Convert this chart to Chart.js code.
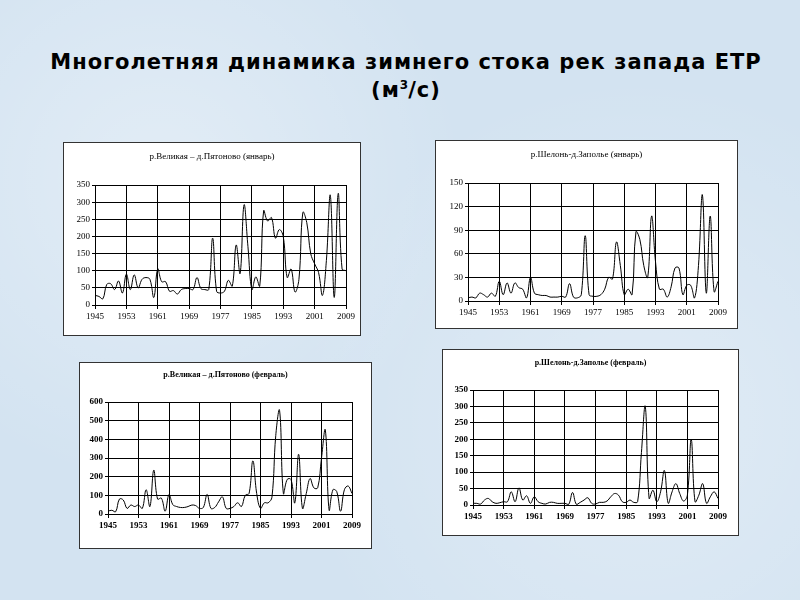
<!DOCTYPE html>
<html>
<head>
<meta charset="utf-8">
<script src="https://cdn.jsdelivr.net/npm/chart.js@4"></script>
<style>
  body {
    margin: 0;
    width: 800px;
    height: 600px;
    overflow: hidden;
    background: #d3e3f1;
    background-image: radial-gradient(circle at 20% 30%, rgba(255,255,255,0.35), rgba(255,255,255,0) 40%),
                      radial-gradient(circle at 80% 70%, rgba(255,255,255,0.3), rgba(255,255,255,0) 45%);
    position: relative;
  }
  #title {
    position: absolute;
    left: 6px;
    top: 48px;
    width: 800px;
    text-align: center;
    font-family: "DejaVu Sans", sans-serif;
    font-weight: bold;
    font-size: 21px;
    letter-spacing: 1px;
    line-height: 28px;
    color: #000;
  }
  #title sup {
    font-size: 12px;
    line-height: 0;
    letter-spacing: 0;
  }
  canvas {
    position: absolute;
    background: #fff;
    outline: 1px solid #333;
  }
</style>
</head>
<body>
<div id="title">Многолетняя динамика зимнего стока рек запада ЕТР<br>(м<sup>3</sup>/с)</div>
<canvas id="c1"></canvas>
<canvas id="c2"></canvas>
<canvas id="c3"></canvas>
<canvas id="c4"></canvas>
<script>
const years = [
  1945, 1946, 1947, 1948, 1949, 1950, 1951, 1952, 1953, 1954, 1955, 1956, 1957,
  1958, 1959, 1960, 1961, 1962, 1963, 1964, 1965, 1966, 1967, 1968, 1969, 1970,
  1971, 1972, 1973, 1974, 1975, 1976, 1977, 1978, 1979, 1980, 1981, 1982, 1983,
  1984, 1985, 1986, 1987, 1988, 1989, 1990, 1991, 1992, 1993, 1994, 1995, 1996,
  1997, 1998, 1999, 2000, 2001, 2002, 2003, 2004, 2005, 2006, 2007, 2008, 2009
];
const tickYears = [1945, 1953, 1961, 1969, 1977, 1985, 1993, 2001, 2009];

// р.Великая – д.Пятоново, январь
const velikayaJan = [
  28, 25, 18, 60, 62, 45, 70, 35, 90, 45, 88, 50, 75,
  80, 75, 22, 105, 68, 68, 40, 42, 32, 45, 48, 48, 45,
  80, 48, 45, 45, 195, 40, 35, 40, 72, 55, 175, 92, 292,
  170, 45, 82, 55, 275, 245, 255, 195, 220, 200, 80, 105, 38,
  75, 270, 240, 150, 120, 95, 28, 130, 320, 22, 325, 105, 100
];
// р.Шелонь – д.Заполье, январь
const shelonJan = [
  4, 5, 4, 10, 8, 5, 10, 6, 25, 8, 23, 10, 23,
  17, 15, 4, 30, 10, 8, 7, 7, 5, 5, 5, 6, 5,
  22, 5, 4, 8, 83, 8, 6, 6, 8, 15, 30, 28, 75,
  45, 8, 15, 8, 88, 78, 45, 30, 108, 50, 15, 15, 5,
  18, 42, 42, 8, 20, 20, 4, 45, 135, 10, 108, 12, 25
];
// р.Великая – д.Пятоново, февраль
const velikayaFeb = [
  15, 20, 12, 80, 75, 30, 48, 40, 48, 30, 130, 40, 235,
  80, 85, 15, 105, 50, 40, 35, 35, 40, 48, 45, 30, 35,
  105, 30, 35, 65, 92, 30, 30, 40, 60, 40, 100, 110, 285,
  110, 30, 60, 60, 90, 420, 555, 110, 185, 185, 60, 320, 30,
  110, 190, 140, 140, 300, 450, 20, 130, 120, 15, 130, 150, 110
];
// р.Шелонь – д.Заполье, февраль
const shelonFeb = [
  5, 5, 3, 15, 20, 10, 5, 7, 10, 10, 40, 10, 52,
  15, 28, 5, 25, 10, 5, 3, 8, 8, 5, 5, 5, 2,
  38, 2, 8, 15, 22, 5, 3, 8, 8, 12, 25, 35, 30,
  10, 8, 15, 8, 10, 160, 300, 20, 45, 10, 40, 105, 5,
  40, 65, 35, 12, 30, 200, 10, 30, 65, 5, 25, 40, 20
];

function makeChart(id, values, yMax, yStep, title, box, plot, titleY, bold) {
  const canvas = document.getElementById(id);
  canvas.width = box.w;
  canvas.height = box.h;
  canvas.style.left = box.x + 'px';
  canvas.style.top = box.y + 'px';

  const fontWeight = bold ? 'bold' : 'normal';
  const titleSize = bold ? 8 : 9;
  const titlePadTop = titleY - box.y - titleSize / 2;
  const titlePadBottom = plot.t - box.y - titleSize - titlePadTop;

  return new Chart(canvas.getContext('2d'), {
    type: 'line',
    data: {
      labels: years,
      datasets: [{
        data: values,
        borderColor: '#000',
        borderWidth: 1,
        pointRadius: 0,
        tension: 0.4,
        fill: false
      }]
    },
    options: {
      responsive: false,
      animation: false,
      layout: { padding: 0 },
      plugins: {
        legend: { display: false },
        tooltip: { enabled: false },
        title: {
          display: true,
          text: title,
          color: '#000',
          font: { family: 'Liberation Serif', size: titleSize, weight: fontWeight, lineHeight: 1 },
          padding: { top: titlePadTop, bottom: titlePadBottom }
        }
      },
      scales: {
        x: {
          afterFit: (scale) => { scale.height = box.y + box.h - plot.b; },
          grid: {
            color: (ctx) => (ctx.index % 8 === 0 ? '#000' : 'rgba(0,0,0,0)'),
            lineWidth: 1,
            tickLength: 4
          },
          border: { color: '#000', width: 1 },
          ticks: {
            autoSkip: false,
            maxRotation: 0,
            padding: 2,
            color: '#000',
            font: { family: 'Liberation Serif', size: 9, weight: fontWeight },
            callback: function (value, index) {
              const yr = years[index];
              return tickYears.includes(yr) ? String(yr) : '';
            }
          }
        },
        y: {
          min: 0,
          max: yMax,
          afterFit: (scale) => { scale.width = plot.l - box.x; },
          grid: { color: '#000', lineWidth: 1, tickLength: 3 },
          border: { color: '#000', width: 1 },
          ticks: {
            stepSize: yStep,
            padding: 2,
            color: '#000',
            font: { family: 'Liberation Serif', size: 9, weight: fontWeight }
          }
        },
        // empty right axis only keeps the white margin on the right
        spacer: {
          type: 'linear',
          position: 'right',
          afterFit: (scale) => { scale.width = box.x + box.w - plot.r; },
          grid: { display: false },
          border: { display: false },
          ticks: { display: false }
        }
      }
    }
  });
}

makeChart('c1', velikayaJan, 350, 50, 'р.Великая – д.Пятоново (январь)',
  { x: 64, y: 143, w: 296, h: 192 }, { l: 95, t: 185, r: 346, b: 305 }, 157, false);
makeChart('c2', shelonJan, 150, 30, 'р.Шелонь-д.Заполье (январь)',
  { x: 436, y: 141, w: 301, h: 187 }, { l: 468, t: 183, r: 718, b: 301 }, 155, false);
makeChart('c3', velikayaFeb, 600, 100, 'р.Великая – д.Пятоново (февраль)',
  { x: 80, y: 363, w: 291, h: 185 }, { l: 108, t: 402, r: 352, b: 514 }, 375, true);
makeChart('c4', shelonFeb, 350, 50, 'р.Шелонь-д.Заполье (февраль)',
  { x: 443, y: 350, w: 295, h: 185 }, { l: 473, t: 390, r: 718, b: 505 }, 363, true);
</script>
</body>
</html>
